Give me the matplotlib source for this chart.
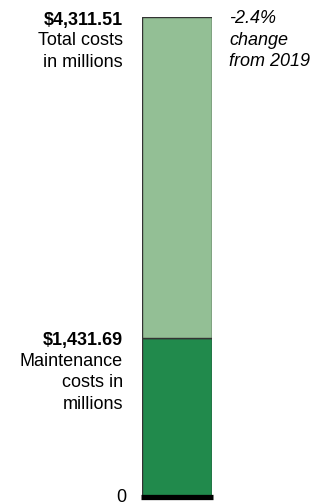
import matplotlib.pyplot as plt
import matplotlib.transforms as mtransforms

plt.rcParams['font.family'] = ['Liberation Sans', 'DejaVu Sans']

# Data
total_cost = 4311.51
maintenance_cost = 1431.69
total_label = "$4,311.51"
maintenance_label = "$1,431.69"
total_desc = "Total costs\nin millions"
maintenance_desc = "Maintenance\ncosts in\nmillions"
change_text = "-2.4%\nchange\nfrom 2019"

light_green = "#93bf95"
dark_green = "#218a4c"

fig = plt.figure(figsize=(3.3, 5.04), dpi=100)
ax = fig.add_axes([142 / 330, 7 / 504, 70 / 330, 480 / 504])

ax.bar([0], [maintenance_cost], width=1, color=dark_green, edgecolor="#333333", linewidth=1)
ax.bar([0], [total_cost - maintenance_cost], bottom=[maintenance_cost], width=1,
       color=light_green, edgecolor="#333333", linewidth=1)

ax.set_xlim(-0.5, 0.5)
ax.set_ylim(0, total_cost)
for s in ax.spines.values():
    s.set_visible(False)
ax.set_xticks([])
ax.set_yticks([])

# thick baseline
ax.plot([-0.515, 0.515], [0, 0], color="black", linewidth=3.8, clip_on=False,
        solid_capstyle="butt")

trans = mtransforms.blended_transform_factory(ax.transAxes, ax.transData)
lx = -19 / 70
rx = 1 + 17 / 70
fs = 13
ls = 1.36

ax.annotate("0", xy=(-16 / 70, 0), xycoords=trans, xytext=(0, 0), textcoords="offset pixels",
            ha="right", va="center", fontsize=fs, annotation_clip=False)

for val, lab, desc in [(total_cost, total_label, total_desc),
                       (maintenance_cost, maintenance_label, maintenance_desc)]:
    ax.annotate(lab, xy=(lx, val), xycoords=trans, xytext=(0, -3), textcoords="offset pixels",
                ha="right", va="center", fontsize=fs, fontweight="bold", annotation_clip=False)
    ax.annotate(desc, xy=(lx, val), xycoords=trans, xytext=(0, -15), textcoords="offset pixels",
                ha="right", va="top", fontsize=fs, linespacing=ls, annotation_clip=False)

ax.annotate(change_text, xy=(rx, total_cost), xycoords=trans, xytext=(0, 7), textcoords="offset pixels",
            ha="left", va="top", fontsize=fs, style="italic", linespacing=ls, annotation_clip=False)

fig.savefig("out.png", dpi=100)
